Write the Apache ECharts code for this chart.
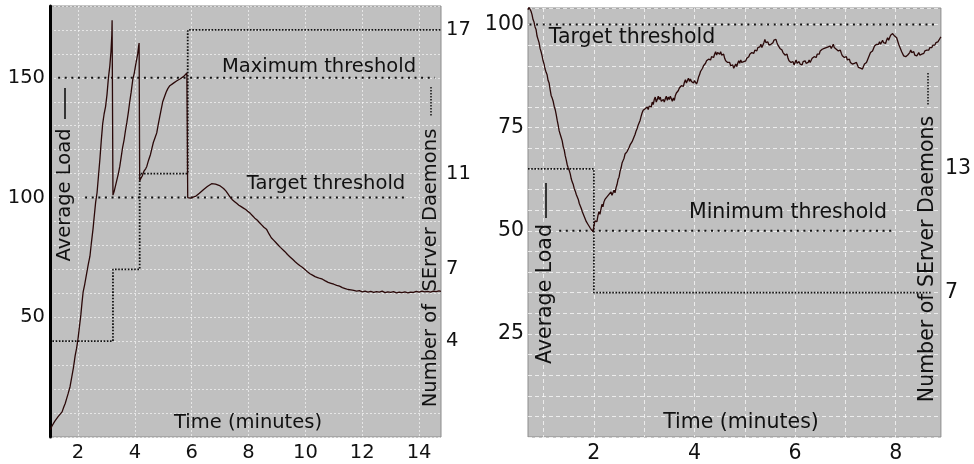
<!DOCTYPE html>
<html><head><meta charset="utf-8">
<script src="https://cdn.jsdelivr.net/npm/echarts@6/dist/echarts.min.js"></script>
<style>html,body{margin:0;padding:0;background:#fff}#c{width:974px;height:464px}</style>
</head><body><div id="c"></div>
<script>
// ---------- Left panel: scale-up scenario ----------
const leftTime = [1.03,1.08,1.13,1.18,1.24,1.3,1.36,1.44,1.5,1.55,1.6,1.65,1.72,1.78,1.84,1.9,1.95,2.0,2.05,2.1,2.14,2.18,2.24,2.3,2.36,2.42,2.47,2.53,2.57,2.62,2.67,2.72,2.77,2.82,2.87,2.92,2.97,3.02,3.07,3.12,3.16,3.19,3.2,3.23,
 3.27,3.32,3.37,3.42,3.47,3.52,3.57,3.62,3.67,3.72,3.77,3.82,3.87,3.93,3.98,4.03,4.07,4.1,4.13,4.15,4.17,
 4.21,4.26,4.32,4.38,4.42,4.48,4.55,4.6,4.65,4.71,4.77,4.83,4.88,4.93,4.98,5.04,5.1,5.16,5.23,5.3,5.36,5.42,5.48,5.54,5.6,5.66,5.72,5.78,5.83,5.86,
 5.9,5.95,6.0,6.05,6.1,6.15,6.2,6.27,6.34,6.41,6.48,6.55,6.62,6.7,6.77,6.84,6.91,6.98,7.05,7.12,7.2,7.27,7.34,7.42,7.5,7.58,7.66,7.74,7.82,7.9,7.98,8.06,8.14,8.22,8.3,8.38,8.46,8.54,8.63,8.72,8.8,8.88,8.96,9.04,9.12,9.19,9.28,9.37,9.46,9.55,9.64,9.72,9.8,9.89,9.98,10.07,10.16,10.25,10.34,10.43,10.52,10.6,10.7,10.8,10.9,11.0,11.1,11.2,11.3,11.4,11.5,11.6,11.7,11.8,11.9,12.0,12.1,12.2,12.3,12.4,12.5,12.6,12.7,12.8,12.9,13.0,13.1,13.2,13.3,13.4,13.5,13.6,13.7,13.8,13.9,14.0,14.1,14.2,14.3,14.4,14.5,14.6,14.7,14.77];
const leftLoad = [3,4.5,5,6.5,7,8.5,9,10.5,12.5,14,16,18,21,25,29,34,37,41,46,51,56,60.5,64,68,72,75.5,81,87,92,98,102,109,116,124,131,135,138,143,150,155,161,168,174,101,
 102.5,105,107.5,110,113,117,121,124,128,131.5,135.5,140,144,149.5,152,155.5,158,160,163,164.5,107,
 108,109,111,112,113,115.5,118,120.5,123,125,127,131,134,137,140,142,144,145.5,146.7,147,147.8,148,148.8,149.2,149.6,149.8,150.6,151,152,100,
 100.3,99.8,100.5,100.2,100.8,100.6,101.2,101.8,102.6,103.3,104,104.6,105.2,105.8,106,105.6,105.2,105,104.6,103.8,102.8,101.6,100.4,99.2,98.4,97.6,96.8,96.2,95.6,95,94.2,93.4,92.4,91.4,90.6,89.6,88.6,87.6,86.8,84.8,83.2,82.2,81.2,80.2,79.2,78.5,77.4,76.2,75.2,74.2,73.2,72.4,71.6,70.9,70,69,68.2,67.6,67,66.6,66.2,65.9,65.2,64.6,64.2,63.8,63.3,63,62.4,62,61.6,61.4,61.2,60.9,61.1,60.6,60.9,60.5,60.8,60.4,60.7,60.5,60.9,60.3,60.6,60.4,60.7,60.2,60.5,60.3,60.6,60.2,60.5,60.4,60.8,60.5,60.9,60.6,60.8,60.5,60.9,60.7,61,60.8];
const leftDaemonTime = [1.1,3.23,4.17,5.86,14.77];
const leftDaemonCount = [4,7,11,17,17];
const leftMaxThreshold = 150, leftMaxSpan = [1.3,14.55];
const leftTargetThreshold = 100, leftTargetSpan = [2.25,13.55];
const leftXTicks = [2,4,6,8,10,12,14];
const leftYLabels = [50,100,150];
const leftDaemonLabels = [4,7,11,17];

// ---------- Right panel: scale-down scenario ([time, load] readings) ----------
const rightLoadPoints = [
 [0.69,103.6],[0.71,104.2],[0.73,103.8],[0.75,103.2],[0.77,102.4],[0.79,101.2],[0.81,100.6],[0.83,99.4],[0.85,98.8],[0.87,97.2],[0.89,96.4],[0.91,95.6],[0.93,94.2],[0.95,93.4],[0.97,92.4],[0.99,91.2],
 [1.01,90.4],[1.03,89.2],[1.05,88.4],[1.07,87.8],[1.09,86.4],[1.11,85.8],[1.13,84.2],[1.15,82.8],[1.17,82.2],[1.19,81.4],[1.21,80.2],[1.23,79.4],[1.25,78.2],[1.27,76.8],[1.29,75.6],[1.31,74.2],
 [1.33,73.4],[1.35,72.6],[1.37,71.8],[1.39,70.4],[1.41,69.6],[1.43,68.2],[1.45,67.2],[1.47,66],[1.49,65.2],[1.51,64.6],[1.53,63.8],[1.55,62.6],[1.57,61.8],[1.59,61.2],[1.61,60.2],[1.63,59.6],
 [1.65,58.8],[1.67,58.2],[1.69,57.6],[1.71,56.6],[1.73,56.2],[1.75,55.4],[1.77,54.6],[1.79,54.2],[1.81,53.4],[1.83,53],[1.85,52.2],[1.87,51.8],[1.89,51.4],[1.91,51],[1.93,50.6],[1.95,50.2],[1.98,49.8],
 [2.02,52.4],[2.04,52.8],[2.06,52.2],[2.08,53.6],[2.1,54.6],[2.12,54],[2.14,55.2],[2.16,56.4],[2.18,55.8],[2.2,57],[2.22,57.6],[2.24,57.2],[2.26,58.2],[2.28,57.8],[2.3,58.8],[2.32,58.4],[2.34,59.4],
 [2.36,58.6],[2.38,59.2],[2.4,59.8],[2.42,59.2],[2.44,60.4],[2.46,61.2],[2.48,62.4],[2.5,63],[2.52,64.4],[2.54,65.2],[2.56,66.4],[2.58,67],[2.6,67.6],[2.62,68.6],[2.64,68.2],[2.66,69.2],[2.68,69],
 [2.7,70.2],[2.72,70.8],[2.74,70.4],[2.76,71.6],[2.78,72],[2.8,72.8],[2.82,73.4],[2.84,74.2],[2.86,74.8],[2.88,75.6],[2.9,76.2],[2.92,76.8],[2.94,77.8],[2.96,78.6],[2.98,79.2],[3.0,78.8],[3.02,79.6],
 [3.04,79.2],[3.06,80],[3.08,79.4],[3.1,80.2],[3.12,80.6],[3.14,80],[3.16,81.2],[3.18,80.6],[3.2,81.8],[3.22,82.4],[3.24,81.2],[3.26,81.8],[3.28,82.6],[3.3,81.8],[3.32,82.4],[3.34,81.4],[3.36,81],
 [3.38,81.8],[3.4,81.2],[3.42,82],[3.44,82.6],[3.46,81.6],[3.48,82.4],[3.5,81.8],[3.52,82.6],[3.54,82],[3.56,81.4],[3.58,82.2],[3.6,81.6],[3.62,82.8],[3.64,83.4],[3.66,83],[3.68,84],[3.7,84.6],
 [3.72,84.2],[3.74,85.2],[3.76,85.6],[3.78,85],[3.8,86],[3.82,86.6],[3.84,85.8],[3.86,86.4],[3.88,87],[3.9,86.2],[3.92,86.8],[3.94,86.2],[3.96,86.6],[3.98,85.8],[4.0,86.4],[4.02,86],[4.04,85.6],
 [4.06,86.2],[4.08,87.2],[4.1,87.8],[4.12,88.6],[4.14,88.2],[4.16,89.4],[4.18,90],[4.2,89.6],[4.22,90.6],[4.24,91.2],[4.26,90.8],[4.28,91.6],[4.3,92],[4.32,91.4],[4.34,92.2],[4.36,92.6],[4.38,92],
 [4.4,92.8],[4.42,93.4],[4.44,92.6],[4.46,93.2],[4.48,93.6],[4.5,92.8],[4.52,93.4],[4.54,92.6],[4.56,92.2],[4.58,92.8],[4.6,91.8],[4.62,91.2],[4.64,91.6],[4.66,90.8],[4.68,90.4],[4.7,90.8],[4.72,90],
 [4.74,89.6],[4.76,90.2],[4.78,89.4],[4.8,89.8],[4.82,90.4],[4.84,89.8],[4.86,90.6],[4.88,91.2],[4.9,90.6],[4.92,91.4],[4.94,90.8],[4.96,90.4],[4.98,91],[5.0,90.6],[5.02,91.2],[5.04,91.8],[5.06,91.4],
 [5.08,92.2],[5.1,92.8],[5.12,92.4],[5.14,93.2],[5.16,93.6],[5.18,93],[5.2,93.8],[5.22,94.2],[5.24,93.6],[5.26,94.4],[5.28,94],[5.3,94.6],[5.32,95.2],[5.34,94.4],[5.36,94.8],[5.38,95.6],[5.4,96.4],
 [5.42,95.6],[5.44,95.2],[5.46,95.8],[5.48,95],[5.5,94.6],[5.52,95.2],[5.54,94.8],[5.56,95.6],[5.58,96.2],[5.6,95.8],[5.62,96.4],[5.64,95.6],[5.66,95],[5.68,95.4],[5.7,94.2],[5.72,94.6],[5.74,93.8],
 [5.76,93.2],[5.78,93.6],[5.8,92.6],[5.82,92.2],[5.84,92.8],[5.86,91.8],[5.88,91.2],[5.9,91.6],[5.92,90.8],[5.94,90.4],[5.96,91],[5.98,90.2],[6.0,90.8],[6.02,91.4],[6.04,90.6],[6.06,90.2],[6.08,91],
 [6.1,90.4],[6.12,90.8],[6.14,90.2],[6.16,91],[6.18,90.6],[6.2,91.2],[6.22,90.6],[6.24,90.2],[6.26,90.8],[6.28,91.4],[6.3,90.8],[6.32,91.2],[6.34,91.8],[6.36,91.4],[6.38,92.2],[6.4,92.6],[6.42,92],
 [6.44,92.8],[6.46,93.2],[6.48,92.8],[6.5,93.6],[6.52,93.2],[6.54,94],[6.56,93.6],[6.58,94.2],[6.6,93.8],[6.62,94.4],[6.64,94],[6.66,94.6],[6.68,94.2],[6.7,94.8],[6.72,94.2],[6.74,94.6],[6.76,95.2],
 [6.78,94.4],[6.8,94.8],[6.82,94],[6.84,94.4],[6.86,93.6],[6.88,93.2],[6.9,93.8],[6.92,93],[6.94,92.4],[6.96,92.8],[6.98,92],[7.0,91.6],[7.02,92.2],[7.04,91.4],[7.06,91],[7.08,91.6],[7.1,90.8],
 [7.12,91.2],[7.14,90.4],[7.16,90],[7.18,90.6],[7.2,90.2],[7.22,90.8],[7.24,90.2],[7.26,89.6],[7.28,90],[7.3,89.4],[7.32,89.8],[7.34,89.2],[7.36,89.6],[7.38,90.4],[7.4,90],[7.42,90.8],[7.44,91.4],
 [7.46,92],[7.48,92.6],[7.5,93.2],[7.52,92.8],[7.54,93.6],[7.56,94.2],[7.58,94.8],[7.6,94.4],[7.62,95.2],[7.64,95.6],[7.66,95.2],[7.68,95.8],[7.7,95.2],[7.72,95.6],[7.74,96.2],[7.76,95.6],[7.78,96],
 [7.8,95.4],[7.82,96.2],[7.84,96.8],[7.86,96.2],[7.88,96.8],[7.9,97.4],[7.92,97],[7.94,97.8],[7.96,98],[7.98,97.2],[8.0,97.6],[8.02,96.8],[8.04,96],[8.06,95.2],[8.08,94.6],[8.1,94],[8.12,93.4],
 [8.14,93],[8.16,92.4],[8.18,92.8],[8.2,92.2],[8.22,92],[8.24,92.6],[8.26,92.2],[8.28,93.2],[8.3,93.8],[8.32,93.2],[8.34,92.8],[8.36,93.4],[8.38,92.6],[8.4,93],[8.42,92.4],[8.44,92.8],[8.46,93.2],
 [8.48,92.6],[8.5,92.2],[8.52,92.8],[8.54,92.4],[8.56,93],[8.58,93.6],[8.6,93.2],[8.62,93.8],[8.64,94.2],[8.66,93.8],[8.68,94.4],[8.7,94.8],[8.72,94.4],[8.74,95],[8.76,95.4],[8.78,95],[8.8,95.6],
 [8.82,95.2],[8.84,95.8],[8.86,96.2],[8.88,96.6],[8.9,97]
];
const rightDaemonTime = [0.69,2.0,8.72];
const rightDaemonCount = [13,7,7];
const rightTargetThreshold = 100, rightTargetSpan = [0.72,8.76];
const rightMinThreshold = 50, rightMinSpan = [1.31,7.92];
const rightXTicks = [1,2,3,4,5,6,7,8];
const rightXLabels = [2,4,6,8];
const rightYLabels = [25,50,75,100];
const rightDaemonLabels = [7,13];

const zip = (a, b) => a.map((v, i) => [v, b[i]]);
const span = (s, y) => [[s[0], y], [s[1], y]];

const FONT = 'DejaVu Sans';
const TXT = '#111';
const loadStyle = {color: '#2a0808', width: 1.3};
const thrStyle = {color: '#111', width: 2, type: [2, 4.6]};
const stepStyle = {color: '#111', width: 1.8, type: [1.6, 1.6]};
const gridL = {color: 'rgba(255,255,255,0.6)', width: 1, type: [2, 2]};
const gridR = {color: 'rgba(255,255,255,0.7)', width: 1, type: [4, 3]};

const chart = echarts.init(document.getElementById('c'));
const option = {
  animation: false,
  backgroundColor: '#fff',
  textStyle: {fontFamily: FONT},
  grid: [
    {left: 50, top: 6, width: 391, height: 431, show: true, backgroundColor: '#c0c0c0', borderColor: '#8c8c8c', borderWidth: 1},
    {left: 528, top: 8, width: 417, height: 429, show: true, backgroundColor: '#c0c0c0', borderColor: '#8c8c8c', borderWidth: 1}
  ],
  xAxis: [
    {type: 'value', gridIndex: 0, min: 1.015, max: 14.77,
     axisLine: {show: false}, axisTick: {show: false, customValues: leftXTicks},
     axisLabel: {customValues: leftXTicks, fontSize: 19.5, color: TXT, margin: 6, fontFamily: FONT},
     splitLine: {show: true, lineStyle: gridL}},
    {type: 'value', gridIndex: 1, min: 0.69, max: 8.9,
     axisLine: {show: false}, axisTick: {show: false, customValues: rightXTicks},
     axisLabel: {customValues: rightXLabels, fontSize: 20.5, color: TXT, margin: 6, fontFamily: FONT},
     splitLine: {show: true, lineStyle: gridR}}
  ],
  yAxis: [
    {type: 'value', gridIndex: 0, min: 0, max: 180, interval: 10, position: 'left',
     axisLine: {show: true, onZero: false, lineStyle: {color: '#000', width: 3}}, axisTick: {show: false},
     axisLabel: {customValues: leftYLabels, fontSize: 19.5, color: TXT, margin: 5, fontFamily: FONT},
     splitLine: {show: true, lineStyle: gridL}},
    {type: 'value', gridIndex: 0, min: 0, max: 18, position: 'right',
     axisLine: {show: false}, axisTick: {show: false}, splitLine: {show: false},
     axisLabel: {customValues: leftDaemonLabels, fontSize: 19.5, color: TXT, margin: 5, fontFamily: FONT}},
    {type: 'value', gridIndex: 1, min: 0, max: 104, interval: 5, position: 'left',
     axisLine: {show: false}, axisTick: {show: false},
     axisLabel: {customValues: rightYLabels, fontSize: 20.5, color: TXT, margin: 4, fontFamily: FONT},
     splitLine: {show: true, lineStyle: gridR}},
    {type: 'value', gridIndex: 1, min: 0, max: 20.8, position: 'right',
     axisLine: {show: false}, axisTick: {show: false}, splitLine: {show: false},
     axisLabel: {customValues: rightDaemonLabels, fontSize: 20.5, color: TXT, margin: 4, fontFamily: FONT}}
  ],
  series: [
    {type: 'line', xAxisIndex: 0, yAxisIndex: 0, data: span(leftMaxSpan, leftMaxThreshold), showSymbol: false, lineStyle: thrStyle, silent: true},
    {type: 'line', xAxisIndex: 0, yAxisIndex: 0, data: span(leftTargetSpan, leftTargetThreshold), showSymbol: false, lineStyle: thrStyle, silent: true},
    {type: 'line', xAxisIndex: 0, yAxisIndex: 1, data: zip(leftDaemonTime, leftDaemonCount), step: 'end', showSymbol: false, lineStyle: stepStyle, silent: true},
    {type: 'line', xAxisIndex: 0, yAxisIndex: 0, data: zip(leftTime, leftLoad), showSymbol: false, lineStyle: loadStyle, silent: true},
    {type: 'line', xAxisIndex: 1, yAxisIndex: 2, data: span(rightTargetSpan, rightTargetThreshold), showSymbol: false, lineStyle: thrStyle, silent: true},
    {type: 'line', xAxisIndex: 1, yAxisIndex: 2, data: span(rightMinSpan, rightMinThreshold), showSymbol: false, lineStyle: thrStyle, silent: true},
    {type: 'line', xAxisIndex: 1, yAxisIndex: 3, data: zip(rightDaemonTime, rightDaemonCount), step: 'end', showSymbol: false, lineStyle: stepStyle, silent: true},
    {type: 'line', xAxisIndex: 1, yAxisIndex: 2, data: rightLoadPoints, showSymbol: false, lineStyle: loadStyle, silent: true}
  ],
  graphic: [
    // left panel annotations
    {type: 'text', x: 319, y: 67, z: 100, style: {text: 'Maximum threshold', font: '19.5px "DejaVu Sans"', fill: TXT, align: 'center', verticalAlign: 'middle'}},
    {type: 'text', x: 326, y: 184, z: 100, style: {text: 'Target threshold', font: '19.5px "DejaVu Sans"', fill: TXT, align: 'center', verticalAlign: 'middle'}},
    {type: 'text', x: 248, y: 423, z: 100, style: {text: 'Time (minutes)', font: '19.5px "DejaVu Sans"', fill: TXT, align: 'center', verticalAlign: 'middle'}},
    {type: 'text', x: 65, y: 195, rotation: Math.PI / 2, z: 100, style: {text: 'Average Load', font: '19.5px "DejaVu Sans"', fill: TXT, align: 'center', verticalAlign: 'middle'}},
    {type: 'line', z: 100, shape: {x1: 65, y1: 88, x2: 65, y2: 119}, style: {stroke: '#111', lineWidth: 1.6}},
    {type: 'text', x: 431, y: 268, rotation: Math.PI / 2, z: 100, style: {text: 'Number of  SErver Daemons', font: '19.5px "DejaVu Sans"', fill: TXT, align: 'center', verticalAlign: 'middle'}},
    {type: 'line', z: 100, shape: {x1: 431, y1: 87, x2: 431, y2: 116}, style: {stroke: '#111', lineWidth: 1.5, lineDash: [1.5, 1.5]}},
    // right panel annotations
    {type: 'text', x: 632, y: 38, z: 100, style: {text: 'Target threshold', font: '20.5px "DejaVu Sans"', fill: TXT, align: 'center', verticalAlign: 'middle'}},
    {type: 'text', x: 788, y: 213, z: 100, style: {text: 'Minimum threshold', font: '20.5px "DejaVu Sans"', fill: TXT, align: 'center', verticalAlign: 'middle'}},
    {type: 'text', x: 741, y: 423, z: 100, style: {text: 'Time (minutes)', font: '20.5px "DejaVu Sans"', fill: TXT, align: 'center', verticalAlign: 'middle'}},
    {type: 'text', x: 546, y: 294, rotation: Math.PI / 2, z: 100, style: {text: 'Average Load', font: '20.5px "DejaVu Sans"', fill: TXT, align: 'center', verticalAlign: 'middle'}},
    {type: 'line', z: 100, shape: {x1: 546, y1: 183, x2: 546, y2: 218}, style: {stroke: '#111', lineWidth: 1.6}},
    {type: 'text', x: 928, y: 259, rotation: Math.PI / 2, z: 100, style: {text: 'Number of SErver Daemons', font: '20.5px "DejaVu Sans"', fill: TXT, align: 'center', verticalAlign: 'middle'}},
    {type: 'line', z: 100, shape: {x1: 928, y1: 73, x2: 928, y2: 105}, style: {stroke: '#111', lineWidth: 1.5, lineDash: [1.5, 1.5]}}
  ]
};
chart.setOption(option);
</script>
</body></html>
